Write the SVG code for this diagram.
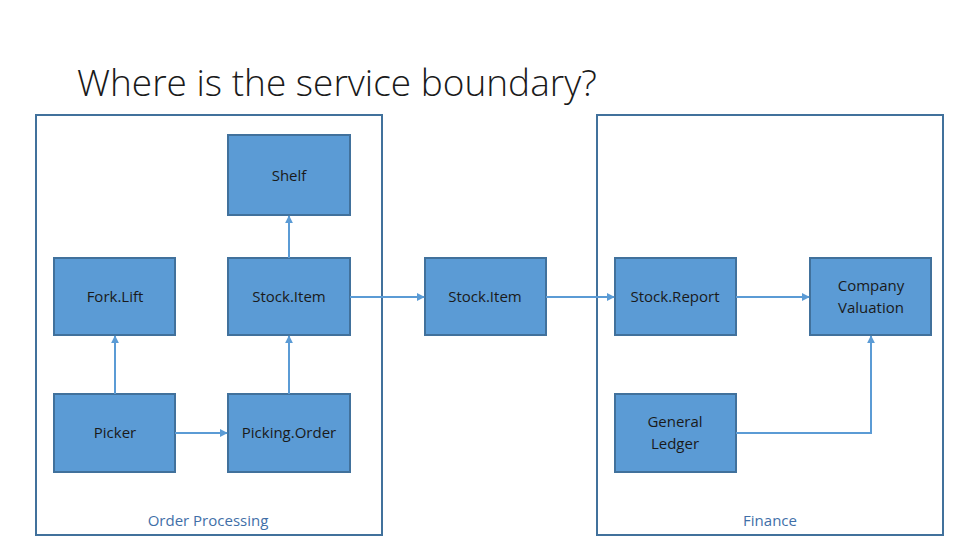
<svg xmlns="http://www.w3.org/2000/svg" width="979" height="551" viewBox="0 0 979 551">
<style>
.c{fill:none;stroke:#41719c;stroke-width:2}
.n{fill:#5b9bd5;stroke:#41719c;stroke-width:2}
.t{font-family:"Open Sans","Liberation Sans",sans-serif;font-size:15px;fill:#1a1a1a;text-anchor:middle}
.l{font-family:"Open Sans","Liberation Sans",sans-serif;font-size:15px;fill:#3f6fa8;text-anchor:middle}
.e{fill:none;stroke:#5b9bd5;stroke-width:2;marker-end:url(#a)}
</style>
<defs><marker id="a" viewBox="0 0 10 10" refX="9" refY="5" markerWidth="4" markerHeight="4" orient="auto"><path d="M0,0L10,5L0,10z" fill="#5b9bd5"/></marker></defs>
<rect width="979" height="551" fill="#fff"/>
<text x="77" y="96" font-family="'Open Sans','Liberation Sans',sans-serif" font-weight="300" font-size="37" fill="#1a1a1a">Where is the service boundary?</text>
<g id="order-processing"><rect class="c" x="36" y="115" width="346" height="420"/><text class="l" x="208" y="526">Order Processing</text></g>
<g id="finance"><rect class="c" x="597" y="115" width="346" height="420"/><text class="l" x="770" y="526">Finance</text></g>
<g id="shelf"><rect class="n" x="228" y="135" width="122" height="80"/><text class="t" x="289" y="181">Shelf</text></g>
<g id="forklift"><rect class="n" x="54" y="258" width="121" height="77"/><text class="t" x="115" y="302">Fork.Lift</text></g>
<g id="stockitem1"><rect class="n" x="228" y="258" width="122" height="77"/><text class="t" x="289" y="302">Stock.Item</text></g>
<g id="picker"><rect class="n" x="54" y="394" width="121" height="78"/><text class="t" x="115" y="438">Picker</text></g>
<g id="pickingorder"><rect class="n" x="228" y="394" width="122" height="78"/><text class="t" x="289" y="438">Picking.Order</text></g>
<g id="stockitem2"><rect class="n" x="425" y="258" width="121" height="77"/><text class="t" x="485" y="302">Stock.Item</text></g>
<g id="stockreport"><rect class="n" x="615" y="258" width="121" height="77"/><text class="t" x="675" y="302">Stock.Report</text></g>
<g id="companyvaluation"><rect class="n" x="810" y="258" width="121" height="77"/><text class="t" x="871" y="291">Company</text><text class="t" x="871" y="313">Valuation</text></g>
<g id="generalledger"><rect class="n" x="615" y="394" width="121" height="78"/><text class="t" x="675" y="427">General</text><text class="t" x="675" y="449">Ledger</text></g>
<g id="connectors">
<path class="e" d="M115,394V336"/>
<path class="e" d="M289,394V336"/>
<path class="e" d="M289,258V216"/>
<path class="e" d="M175,433H227"/>
<path class="e" d="M350,297H424"/>
<path class="e" d="M546,297H614"/>
<path class="e" d="M736,297H809"/>
<path class="e" d="M736,433H871V336"/>
</g>
</svg>
